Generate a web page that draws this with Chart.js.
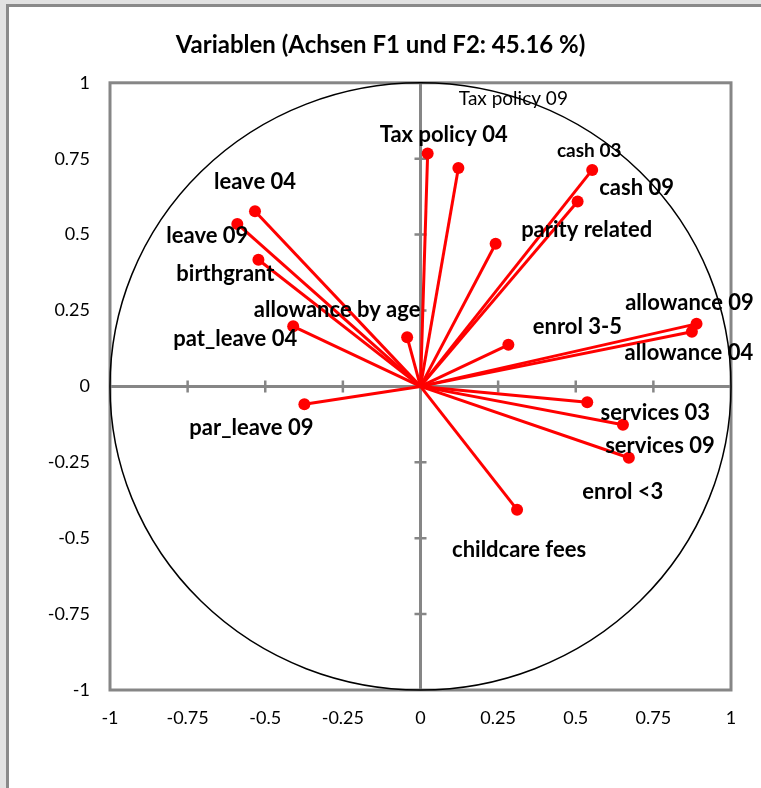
<!DOCTYPE html>
<html><head><meta charset="utf-8">
<script src="https://cdn.jsdelivr.net/npm/chart.js@4"></script>
<style>
html,body{margin:0;padding:0;width:761px;height:788px;overflow:hidden;background:#fff}
#frame{position:absolute;left:0;top:0;width:761px;height:788px;background:#e2e2e2}
#inner{position:absolute;left:6px;top:4px;right:0;bottom:0;border-left:3px solid #8a8a8a;border-top:3px solid #8a8a8a;background:#fff}
#wrap{position:absolute;left:0;top:0;width:761px;height:788px}
</style></head><body>
<div id="frame"><div id="inner"></div></div>
<div id="wrap"><canvas id="c" width="761" height="788"></canvas></div>
<script>
// ---- data ----
const variables = ["Tax policy 04","Tax policy 09","leave 04","leave 09","birthgrant","allowance by age","pat_leave 04","cash 03","cash 09","parity related","allowance 09","allowance 04","enrol 3-5","par_leave 09","services 03","services 09","enrol <3","childcare fees"];
const f1 = [0.023, 0.122, -0.533, -0.590, -0.522, -0.043, -0.410, 0.553, 0.506, 0.242, 0.889, 0.874, 0.283, -0.374, 0.537, 0.652, 0.671, 0.311];
const f2 = [0.767, 0.719, 0.577, 0.535, 0.417, 0.162, 0.198, 0.713, 0.609, 0.470, 0.206, 0.180, 0.137, -0.059, -0.052, -0.126, -0.235, -0.406];
const tickValues = [-1, -0.75, -0.5, -0.25, 0, 0.25, 0.5, 0.75, 1];
const axisTickValues = [-0.75, -0.5, -0.25, 0.25, 0.5, 0.75];
const titleText = "Variablen (Achsen F1 und F2: 45.16 %)";

// ---- label styling (pixel offsets from the point, font) ----
const labelDx = [16, 55, 0, -30, -33, -70, -58, -3, 59, 91, -7, -3, 69, -53, 68, 37, -6, 2];
const labelDy = [-19, -69, -29, 12, 14, -27, 13, -19, -14, -14, -21, 21, -18, 24, 11, 21, 34, 40];
const labelWeight = ["bold","normal","bold","bold","bold","bold","bold","bold","bold","bold","bold","bold","bold","bold","bold","bold","bold","bold"];
const labelSize = [22,19,22,22,22,22,22,19,22,22,22,22,22,22,22,22,22,22];

const FONT = "Lato";
const GRAY = "#868686";
const RED = "#ff0000";

const datasets = variables.map((name, i) => ({
  label: name,
  data: [{x: 0, y: 0}, {x: f1[i], y: f2[i]}],
  showLine: true,
  borderColor: RED,
  borderWidth: 3,
  pointRadius: [0, 6],
  pointHoverRadius: [0, 6],
  pointBackgroundColor: RED,
  pointBorderWidth: 0
}));

const decor = {
  id: 'decor',
  beforeDatasetsDraw(chart) {
    const {ctx, chartArea: a, scales: {x, y}} = chart;
    const x0 = x.getPixelForValue(0), y0 = y.getPixelForValue(0);
    ctx.save();
    ctx.strokeStyle = GRAY;
    ctx.lineWidth = 3;
    ctx.lineCap = 'butt';
    ctx.beginPath();
    ctx.moveTo(a.left, y0); ctx.lineTo(a.right, y0);
    ctx.moveTo(x0, a.top); ctx.lineTo(x0, a.bottom);
    ctx.stroke();
    ctx.lineWidth = 2.5;
    ctx.beginPath();
    axisTickValues.forEach(v => {
      const px = x.getPixelForValue(v);
      ctx.moveTo(px, y0 - 6); ctx.lineTo(px, y0 + 6);
      const py = y.getPixelForValue(v);
      ctx.moveTo(x0 - 6, py); ctx.lineTo(x0 + 6, py);
    });
    ctx.stroke();
    ctx.lineWidth = 3;
    ctx.strokeRect(a.left, a.top, a.right - a.left, a.bottom - a.top);
    const rx = x.getPixelForValue(1) - x0;
    const ry = y0 - y.getPixelForValue(1);
    ctx.strokeStyle = '#000';
    ctx.lineWidth = 1.5;
    ctx.beginPath();
    ctx.ellipse(x0, y0, rx, ry, 0, 0, Math.PI * 2);
    ctx.stroke();
    ctx.restore();
  },
  afterDatasetsDraw(chart) {
    const {ctx, scales: {x, y}} = chart;
    ctx.save();
    ctx.fillStyle = '#000';
    ctx.textAlign = 'center';
    ctx.textBaseline = 'middle';
    variables.forEach((name, i) => {
      ctx.font = `${labelWeight[i]} ${labelSize[i]}px ${FONT}`;
      ctx.fillText(name, x.getPixelForValue(f1[i]) + labelDx[i], y.getPixelForValue(f2[i]) + labelDy[i]);
    });
    ctx.restore();
  }
};

new Chart(document.getElementById('c'), {
  type: 'scatter',
  data: { datasets },
  options: {
    responsive: false,
    animation: false,
    events: [],
    layout: { padding: { left: 0, right: 0, top: 0, bottom: 0 } },
    plugins: {
      legend: { display: false },
      tooltip: { enabled: false },
      title: {
        display: true,
        text: titleText,
        color: '#000',
        font: { family: FONT, size: 24, weight: 'bold' },
        padding: { top: 31, bottom: 23 }
      }
    },
    scales: {
      x: {
        type: 'linear', min: -1, max: 1, position: 'bottom',
        afterBuildTicks: s => { s.ticks = tickValues.map(v => ({value: v})); },
        afterFit: s => { s.height = 98; },
        grid: { display: false, drawTicks: false },
        border: { display: false },
        ticks: { color: '#000', font: { family: FONT, size: 18 }, padding: 17, maxRotation: 0, callback: v => String(v) }
      },
      y: {
        type: 'linear', min: -1, max: 1, position: 'left',
        afterBuildTicks: s => { s.ticks = tickValues.map(v => ({value: v})); },
        afterFit: s => { s.width = 110; },
        grid: { display: false, drawTicks: false },
        border: { display: false },
        ticks: { color: '#000', font: { family: FONT, size: 18 }, padding: 20, callback: v => String(v) }
      },
      yRight: {
        type: 'linear', min: -1, max: 1, position: 'right',
        afterFit: s => { s.width = 30; },
        grid: { display: false, drawTicks: false },
        border: { display: false },
        ticks: { display: false }
      }
    }
  },
  plugins: [decor]
});
</script>
</body></html>
